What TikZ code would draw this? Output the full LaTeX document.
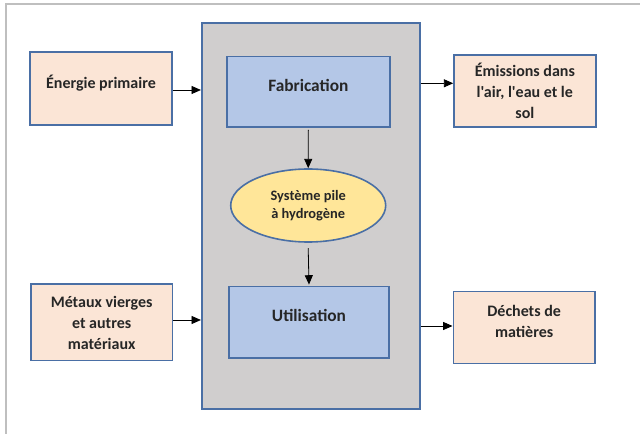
\documentclass[tikz,border=0pt]{standalone}
\usepackage{fontspec}
\setmainfont{Carlito}[Ligatures=TeXOff]
\usetikzlibrary{shapes.geometric,arrows.meta}
\definecolor{peach}{HTML}{FBE5D6}
\definecolor{edgeblue}{HTML}{4A6FA5}
\definecolor{boxblue}{HTML}{B4C7E7}
\definecolor{panelgray}{HTML}{D0CECE}
\definecolor{ellyellow}{HTML}{FFE699}
\definecolor{framegray}{HTML}{BFBFBF}
\tikzset{
  sidebox/.style={draw=edgeblue, line width=1.2pt, fill=peach, rectangle, inner sep=0pt,
    font=\bfseries\fontsize{12}{15.75}\selectfont, align=center, text=black!85},
  stagebox/.style={draw=edgeblue, line width=1.2pt, fill=boxblue, rectangle, inner sep=0pt,
    font=\bfseries\fontsize{13}{16}\selectfont, text=black!85},
  flow/.style={-{Triangle[length=7pt,width=6pt]}, line width=0.6pt, black}
}
\begin{document}
\begin{tikzpicture}[x=0.75pt,y=-0.75pt]
\useasboundingbox (0,0) rectangle (640,434);
\fill[white] (0,0) rectangle (640,434);
% outer frame (top and left only)
\draw[framegray, line width=1.6pt] (6.3,434) -- (6.3,4) -- (640,4);
% central panel
\node[draw=edgeblue, line width=1.2pt, fill=panelgray, rectangle, inner sep=0pt,
  minimum width=218.3*0.75pt, minimum height=386.5*0.75pt] (panel) at (310.85,216) {};
% stages
\node[stagebox, minimum width=163.3*0.75pt, minimum height=70.3*0.75pt] (fab) at (308.35,91.85) {};
\node[font=\bfseries\fontsize{13}{16}\selectfont, text=black!85] (fabt) at (308.35,85.7) {Fabrication};
\node[stagebox, minimum width=160*0.75pt, minimum height=71.3*0.75pt] (util) at (309,322.35) {};
\node[font=\bfseries\fontsize{13}{16}\selectfont, text=black!85] (utilt) at (309,315.7) {Utilisation};
\node[ellipse, draw=edgeblue, line width=1.2pt, fill=ellyellow, inner sep=0pt,
  minimum width=155*0.75pt, minimum height=73*0.75pt,
  font=\bfseries\fontsize{10.8}{13.7}\selectfont, align=center, text=black!85] (pile) at (308.2,205.5)
  {Système pile\\à hydrogène};
% side boxes
\node[sidebox, minimum width=142*0.75pt, minimum height=73*0.75pt] (energie) at (101,88.5) {};
\node[font=\bfseries\fontsize{12}{15.75}\selectfont, text=black!85] (energiet) at (101,83.5) {Énergie primaire};
\node[sidebox, minimum width=141.3*0.75pt, minimum height=76.4*0.75pt] (metaux) at (101.65,322.5)
  {Métaux vierges\\et autres\\matériaux};
\node[sidebox, minimum width=141.7*0.75pt, minimum height=72.3*0.75pt] (emiss) at (524.85,91.15)
  {Émissions dans\\l'air, l'eau et le\\sol};
\node[sidebox, minimum width=141.7*0.75pt, minimum height=72*0.75pt] (dechets) at (524.15,327.7) {};
\node[font=\bfseries\fontsize{12}{15.75}\selectfont, align=center, text=black!85] (dechetst) at (524.15,321.5)
  {Déchets de\\matières};
% connectors
\draw[flow] (energie.east |- 0,90) -- (panel.west |- 0,90);
\draw[flow] (metaux.east |- 0,320) -- (panel.west |- 0,320);
\draw[flow] (panel.east |- 0,83.3) -- (emiss.west |- 0,83.3);
\draw[flow] (panel.east |- 0,326) -- (dechets.west |- 0,326);
\draw[flow] ([yshift=-1.5pt]fab.south) -- (pile.north);
\draw[flow] ([yshift=-4pt]pile.south) -- ([yshift=1pt]util.north);
\end{tikzpicture}
\end{document}
